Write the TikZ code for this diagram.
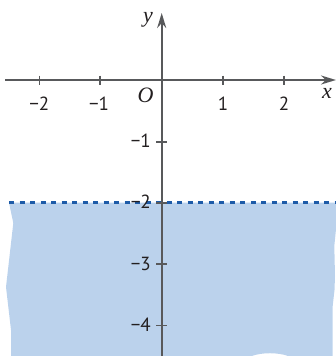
\documentclass[tikz,border=0pt]{standalone}
\usepackage{fontspec}
\newfontfamily\labfont{PT Sans}
\newfontfamily\varfont{Liberation Serif}
\usetikzlibrary{arrows.meta}
\definecolor{axisgray}{HTML}{58595B}
\definecolor{txt}{HTML}{231F20}
\definecolor{fillblue}{HTML}{BBD2EC}
\definecolor{dashblue}{HTML}{1D5BA8}
\tikzset{
  axis/.style={draw=axisgray, line width=2pt, -{Stealth[length=15pt,width=9pt]}},
  tick/.style={draw=axisgray, line width=1.6pt},
  num/.style={text=txt, font=\labfont\fontsize{19}{19}\selectfont, inner sep=0pt},
  var/.style={text=txt, font=\varfont\itshape\fontsize{22}{22}\selectfont, inner sep=0pt},
  bound/.style={draw=dashblue, line width=2.5pt, dash pattern=on 5pt off 5.5pt}
}
\begin{document}
\begin{tikzpicture}[x=1pt,y=-1pt]
\useasboundingbox (0,0) rectangle (336,356);
% shaded region
\fill[fillblue] (9,202.7) -- (13.3,223) -- (6,287) -- (11,330) -- (11,356)
  -- (251.7,356) .. controls (262,352.3) and (278,352.3) .. (288,356)
  -- (332.7,356) -- (332.7,306) -- (334.5,290) -- (335,276) -- (334.3,246)
  -- (336,229) -- (337,202.7) -- cycle;
% boundary
\coordinate (bl) at (9,202.7);
\coordinate (br) at (337,202.7);
\draw[bound] (bl) -- (br);
% axes
\coordinate (xs) at (5,80);
\coordinate (xe) at (336,80);
\coordinate (ys) at (161.7,358);
\coordinate (ye) at (161.7,13);
\draw[axis] (xs) -- (xe);
\draw[axis] (ys) -- (ye);
% x ticks
\foreach \X in {39.3,100,222.7,284}{
  \draw[tick] (\X,75.5) -- (\X,84.5);
}
\node[num, anchor=base] (xm2) at (39.3,110.7) {−2};
\node[num, anchor=base] (xm1) at (99,110.7) {−1};
\node[num, anchor=base] (x1) at (223,110.7) {1};
\node[num, anchor=base] (x2) at (284,110.7) {2};
% y ticks
\foreach \Y in {141.7,202.7,264,325.3}{
  \draw[tick] (156.2,\Y) -- (167.2,\Y);
}
\node[num, anchor=base east] (ym1) at (151,147.9) {−1};
\node[num, anchor=base east] (ym2) at (151,208.9) {−2};
\node[num, anchor=base east] (ym3) at (151,270.6) {−3};
\node[num, anchor=base east] (ym4) at (151,331.7) {−4};
% variable labels
\node[var] (O) at (145.5,95) {O};
\node[var] (ylab) at (148,20) {y};
\node[var] (xlab) at (327,93) {x};
\end{tikzpicture}
\end{document}
